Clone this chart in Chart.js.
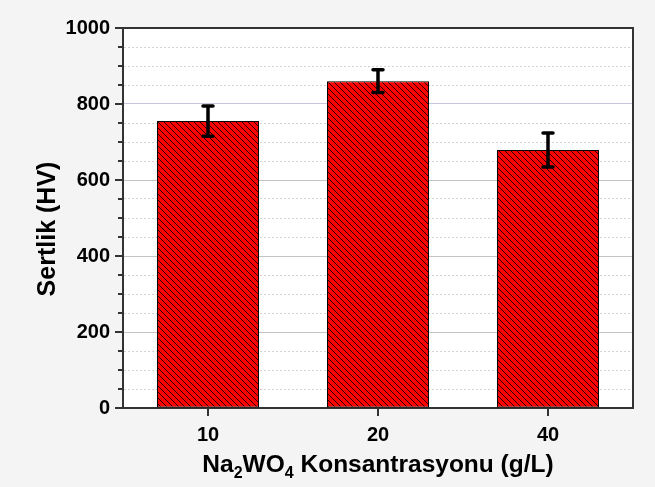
<!DOCTYPE html>
<html>
<head>
<meta charset="utf-8">
<script src="https://cdn.jsdelivr.net/npm/chart.js@4.4.1/dist/chart.umd.min.js"></script>
<style>
  html, body { margin: 0; padding: 0; background: #f4f4f4; }
  canvas { display: block; }
</style>
</head>
<body>
<canvas id="chart" width="655" height="487"></canvas>
<script>
// Na2WO4 concentration (g/L) vs. hardness (HV)
const categories = ['10', '20', '40'];
const hardness = [755, 860, 679];
const hardnessErr = [40, 30, 45];
const yTickLabels = [0, 200, 400, 600, 800, 1000];

const FONT = "'Liberation Sans', Arial, Helvetica, sans-serif";
const canvas = document.getElementById('chart');
const ctx = canvas.getContext('2d');

// red fill with crisp 1px dark diagonal hatching
function hatchPattern() {
  const s = 6;
  const tile = document.createElement('canvas');
  tile.width = s; tile.height = s;
  const g = tile.getContext('2d');
  g.fillStyle = '#ff0000';
  g.fillRect(0, 0, s, s);
  g.fillStyle = '#2a0000';
  for (let i = 0; i < s; i++) g.fillRect(i, i, 1, 1);
  return ctx.createPattern(tile, 'repeat');
}

const isMajor = v => yTickLabels.includes(v);

// white plot area
const plotBackground = {
  id: 'plotBackground',
  beforeDraw(chart) {
    const a = chart.chartArea, c = chart.ctx;
    c.save();
    c.fillStyle = '#ffffff';
    c.fillRect(a.left, a.top, a.right - a.left, a.bottom - a.top);
    c.restore();
  }
};

// error bars from the dataset's error array
const errorBars = {
  id: 'errorBars',
  afterDatasetsDraw(chart) {
    const c = chart.ctx, y = chart.scales.y;
    const meta = chart.getDatasetMeta(0);
    c.save();
    c.strokeStyle = '#000';
    c.lineWidth = 3.5;
    c.lineCap = 'round';
    meta.data.forEach((bar, i) => {
      const v = hardness[i], e = hardnessErr[i];
      const yt = y.getPixelForValue(v + e), yb = y.getPixelForValue(v - e);
      const x = bar.x, cap = 5;
      c.beginPath();
      c.moveTo(x, yt); c.lineTo(x, yb);
      c.moveTo(x - cap, yt); c.lineTo(x + cap, yt);
      c.moveTo(x - cap, yb); c.lineTo(x + cap, yb);
      c.stroke();
    });
    c.restore();
  }
};

// frame, tick marks and axis titles
const frameAndTicks = {
  id: 'frameAndTicks',
  afterDraw(chart) {
    const c = chart.ctx, a = chart.chartArea;
    const xs = chart.scales.x, ys = chart.scales.y;
    c.save();
    c.strokeStyle = '#333';
    c.lineWidth = 2;
    c.beginPath();
    c.moveTo(a.left, a.top); c.lineTo(a.right, a.top); c.lineTo(a.right, a.bottom);
    c.stroke();
    c.beginPath();
    ys.ticks.forEach(t => {
      const py = Math.round(ys.getPixelForValue(t.value));
      const len = isMajor(t.value) ? 8 : 5;
      c.moveTo(a.left - len, py); c.lineTo(a.left, py);
    });
    xs.ticks.forEach((t, i) => {
      const px = Math.round(xs.getPixelForTick(i));
      c.moveTo(px, a.bottom); c.lineTo(px, a.bottom + 8);
    });
    c.stroke();

    c.fillStyle = '#000';

    // Sertlik (HV)
    c.save();
    c.translate(48, 229);
    c.rotate(-Math.PI / 2);
    c.font = 'bold 25px ' + FONT;
    c.textAlign = 'center';
    c.textBaseline = 'middle';
    c.fillText('Sertlik (HV)', 0, 0);
    c.restore();

    // Na2WO4 Konsantrasyonu (g/L)
    const parts = [
      ['Na', false], ['2', true], ['WO', false], ['4', true], [' Konsantrasyonu (g/L)', false]
    ];
    const big = 'bold 24.5px ' + FONT, small = 'bold 16px ' + FONT;
    let w = 0;
    parts.forEach(([t, sub]) => { c.font = sub ? small : big; w += c.measureText(t).width; });
    let x = (a.left + a.right) / 2 - w / 2;
    const base = 472;
    c.textBaseline = 'alphabetic';
    c.textAlign = 'left';
    parts.forEach(([t, sub]) => {
      c.font = sub ? small : big;
      c.fillText(t, x, sub ? base + 6 : base);
      x += c.measureText(t).width;
    });
    c.restore();
  }
};

new Chart(ctx, {
  type: 'bar',
  data: {
    labels: categories,
    datasets: [{
      data: hardness,
      backgroundColor: hatchPattern(),
      borderColor: '#000',
      borderWidth: 1,
      borderSkipped: false,
      categoryPercentage: 1,
      barPercentage: 0.6
    }]
  },
  options: {
    responsive: false,
    animation: false,
    events: [],
    layout: { padding: { top: 28, right: 22, left: 0, bottom: 0 } },
    plugins: { legend: { display: false }, tooltip: { enabled: false } },
    scales: {
      x: {
        offset: true,
        grid: { display: false },
        border: { display: true, color: '#333', width: 2 },
        ticks: { color: '#000', font: { family: FONT, size: 20, weight: 'bold' }, padding: 7 },
        afterFit: s => { s.height = 79; }
      },
      y: {
        min: 0, max: 1000,
        afterBuildTicks: s => {
          const t = [];
          for (let v = 0; v <= 1000; v += 50) t.push({ value: v });
          s.ticks = t;
        },
        grid: {
          drawTicks: false,
          lineWidth: 1,
          color: c => (c.tick && isMajor(c.tick.value)) ? (c.tick.value === 800 ? '#c6c6dc' : '#c4c4c4') : '#d4d4d4'
        },
        border: {
          display: true, color: '#333', width: 2,
          dash: c => (c.type === 'tick' && c.tick && !isMajor(c.tick.value)) ? [2, 2] : []
        },
        ticks: {
          autoSkip: false,
          color: '#000',
          padding: 13,
          font: { family: FONT, size: 20, weight: 'bold' },
          callback: v => isMajor(v) ? String(v) : ''
        },
        afterFit: s => { s.width = 123; }
      }
    }
  },
  plugins: [plotBackground, errorBars, frameAndTicks]
});
</script>
</body>
</html>
